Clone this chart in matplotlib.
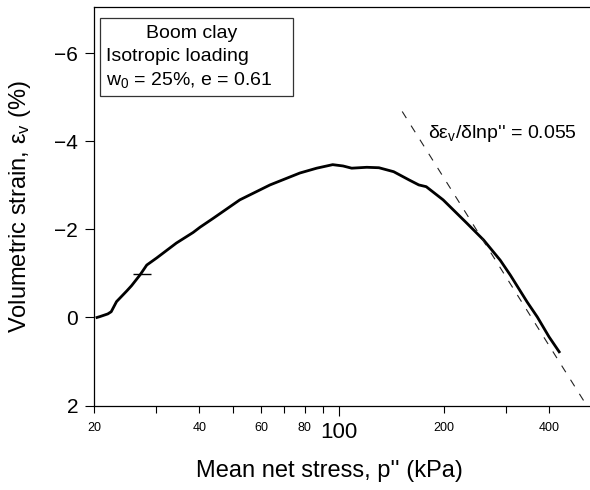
import numpy as np
import matplotlib
matplotlib.use("Agg")
import matplotlib.pyplot as plt
from matplotlib.patches import Rectangle

plt.rcParams['font.family'] = ['Liberation Sans', 'DejaVu Sans']
plt.rcParams['mathtext.default'] = 'regular'

# isotropic loading curve
p_net = [20.4, 20.8, 21.9, 22.4, 23.2, 24.8, 25.6, 27.1, 28.3, 30.2, 34.4, 38.4, 40.2, 43.8,
         52.2, 63.7, 77.5, 86.6, 96.2, 103.0, 109.0, 120.4, 130.4, 143.7, 159.3,
         169.5, 178.0, 199.0, 232.6, 259.6, 289.7, 309.7, 345.9, 369.8, 399.4, 427.0]
eps_v = [0.0, -0.02, -0.08, -0.13, -0.36, -0.60, -0.72, -0.97, -1.19, -1.35, -1.69, -1.93, -2.05, -2.25,
         -2.67, -3.01, -3.28, -3.39, -3.47, -3.44, -3.39, -3.41, -3.40, -3.31, -3.12,
         -3.01, -2.97, -2.67, -2.14, -1.76, -1.30, -0.96, -0.35, -0.01, 0.44, 0.78]

# little cross on the curve
cross_p = [27.5]
cross_e = [-0.99]

# reference slope line
slope = 0.055
line_p0, line_e0 = 265.0, -1.62
line_p = [152.0, 540.0]

x_major = [20, 40, 60, 80, 100, 200, 400]
x_labels = ['20', '40', '60', '80', '100', '200', '400']
x_minor = [30, 50, 70, 90, 300]
y_ticks = [-6, -4, -2, 0, 2]

fig = plt.figure(figsize=(5.9, 4.9), dpi=100)
ax = fig.add_axes([0.1593, 0.1724, 0.8407, 0.8133])

ax.plot(p_net, eps_v, color='black', lw=2.0, solid_joinstyle='round')
ax.plot(cross_p, cross_e, ls='none', marker='_', ms=13, mew=1.0, color='black')

lp = np.array(line_p)
le = line_e0 + slope * 100 * np.log(lp / line_p0)
ax.plot(lp, le, color='#222222', lw=0.8, dashes=(7, 8))

ax.set_xscale('log')
ax.set_xlim(20, 523)
ax.set_ylim(2, -7.05)

ax.set_xticks(x_major)
ax.set_xticklabels(x_labels)
ax.set_xticks(x_minor, minor=True)
ax.xaxis.set_minor_formatter(matplotlib.ticker.NullFormatter())
ax.tick_params(axis='x', which='both', direction='out', length=5, width=0.8,
               labelsize=9, pad=7)
for t, lab in zip(ax.xaxis.get_major_ticks(), x_labels):
    if lab == '100':
        t.label1.set_fontsize(16)
        t.tick1line.set_markersize(7.5)

ax.set_yticks(y_ticks)
ax.set_yticklabels([str(v).replace('-', '\u2212') for v in y_ticks])
ax.tick_params(axis='y', direction='out', length=6.5, width=0.8, labelsize=15, pad=5)

ax.spines['right'].set_visible(False)
for s in ['left', 'bottom', 'top']:
    ax.spines[s].set_linewidth(0.9)

ax.set_xlabel("Mean net stress, p'' (kPa)", fontsize=17)
ax.xaxis.set_label_coords(0.474, -0.137)
ax.set_ylabel("Volumetric strain, ε$_\\mathregular{v}$ (%)", fontsize=17)
ax.yaxis.set_label_coords(-0.123, 0.5)

# info box
ax.add_patch(Rectangle((0.0121, 0.7767), 0.389, 0.1957, transform=ax.transAxes,
                       fill=False, edgecolor='#333333', lw=0.9))
ax.text(0.1976, 0.9215, 'Boom clay', transform=ax.transAxes, ha='center',
        va='baseline', fontsize=14)
ax.text(0.0242, 0.8645, 'Isotropic loading', transform=ax.transAxes, ha='left',
        va='baseline', fontsize=14)
ax.text(0.0242, 0.8043, 'w$_\\mathregular{0}$ = 25%, e = 0.61', transform=ax.transAxes,
        ha='left', va='baseline', fontsize=14)

ax.text(180, -4.08, "δε$_\\mathregular{v}$/δlnp'' = 0.055", ha='left', va='baseline',
        fontsize=14)

fig.savefig('out.png', dpi=100)
